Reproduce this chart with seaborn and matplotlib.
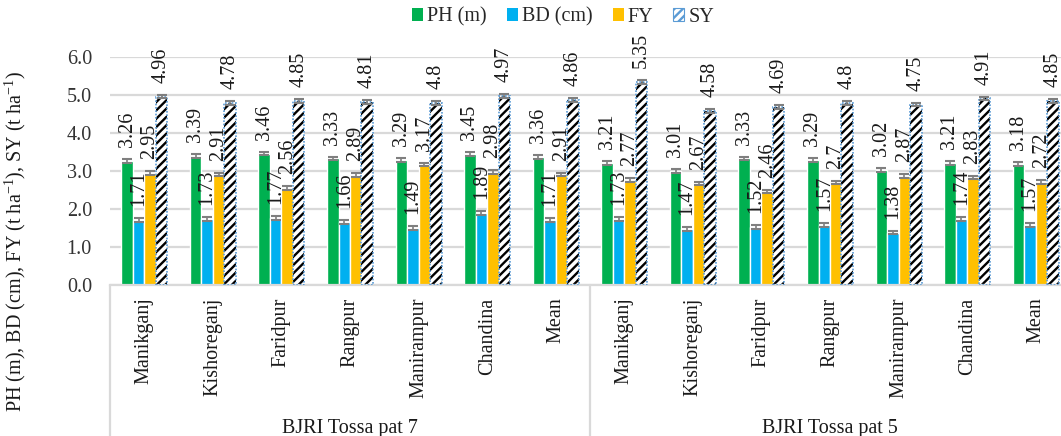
import pandas as pd
import seaborn as sns
import matplotlib.pyplot as plt
from matplotlib.patches import Patch, Rectangle

# Varieties, locations and measured traits
varieties = ["BJRI Tossa pat 7", "BJRI Tossa pat 5"]
locations = ["Manikganj", "Kishoreganj", "Faridpur", "Rangpur", "Manirampur", "Chandina", "Mean"]
series = ["PH (m)", "BD (cm)", "FY", "SY"]

ph = [3.26, 3.39, 3.46, 3.33, 3.29, 3.45, 3.36, 3.21, 3.01, 3.33, 3.29, 3.02, 3.21, 3.18]
bd = [1.71, 1.73, 1.77, 1.66, 1.49, 1.89, 1.71, 1.73, 1.47, 1.52, 1.57, 1.38, 1.74, 1.57]
fy = [2.95, 2.91, 2.56, 2.89, 3.17, 2.98, 2.91, 2.77, 2.67, 2.46, 2.70, 2.87, 2.83, 2.72]
sy = [4.96, 4.78, 4.85, 4.81, 4.80, 4.97, 4.86, 5.35, 4.58, 4.69, 4.80, 4.75, 4.91, 4.85]

# Standard errors shown as small caps on each bar
ph_err = [0.05, 0.05, 0.05, 0.05, 0.05, 0.05, 0.05, 0.05, 0.05, 0.05, 0.05, 0.05, 0.05, 0.05]
bd_err = [0.05, 0.05, 0.05, 0.05, 0.05, 0.05, 0.05, 0.05, 0.05, 0.05, 0.05, 0.05, 0.05, 0.05]
fy_err = [0.05, 0.05, 0.05, 0.05, 0.05, 0.05, 0.05, 0.05, 0.05, 0.05, 0.05, 0.05, 0.05, 0.05]
sy_err = [0.05, 0.05, 0.05, 0.05, 0.05, 0.05, 0.05, 0.05, 0.05, 0.05, 0.05, 0.05, 0.05, 0.05]

colors = ["#00B050", "#00B0F0", "#FFC000", "#FFFFFF"]

keys = [f"{v}|{loc}" for v in varieties for loc in locations]
values = [ph, bd, fy, sy]
errors = [ph_err, bd_err, fy_err, sy_err]

df = pd.DataFrame({
    "key": keys * len(series),
    "series": [s for s in series for _ in keys],
    "value": [x for vals in values for x in vals],
})

sns.set_theme(style="white")
plt.rcParams["font.family"] = ["Liberation Serif", "DejaVu Serif"]
plt.rcParams["mathtext.fontset"] = "custom"
plt.rcParams["mathtext.rm"] = "Liberation Serif"
plt.rcParams["hatch.linewidth"] = 1.7

FS = 14.5
TXT = "#1a1a1a"

W, H = 1061, 436
fig = plt.figure(figsize=(W / 100, H / 100), dpi=100)
ax = fig.add_axes([110 / W, 1 - 285 / H, 960 / W, 228 / H])

sns.barplot(data=df, x="key", y="value", hue="series", order=keys, hue_order=series,
            palette=colors, width=0.67, gap=0, errorbar=None, saturation=1,
            legend=False, ax=ax, zorder=2)

# Hatched SY bars with a dotted blue outline
for p in ax.containers[3]:
    p.set_facecolor("white")
    p.set_edgecolor("black")
    p.set_hatch("////")
    p.set_linewidth(0)
    ax.add_patch(Rectangle((p.get_x(), 0), p.get_width(), p.get_height(), fill=False,
                           edgecolor="#5B9BD5", linestyle=(0, (1, 1)), lw=1.2, zorder=3))

# Error caps and rotated value labels
for cont, errs, vals in zip(ax.containers, errors, values):
    xs = [p.get_x() + p.get_width() / 2 for p in cont]
    hs = [p.get_height() for p in cont]
    ax.errorbar(xs, hs, yerr=errs, fmt="none", ecolor="#7F7F7F", elinewidth=1.2,
                capsize=3.8, capthick=1.5, zorder=4)
    ax.bar_label(cont, labels=[f"{v:g}" for v in vals], rotation=90, padding=10,
                 fontsize=FS, color=TXT)

ax.set_ylim(0, 6)
ax.set_xlim(-0.5, 13.5)
ax.set_yticks([0, 1, 2, 3, 4, 5, 6])
ax.set_yticklabels([f"{t:.1f}" for t in range(7)], fontsize=FS, color="#333333")
ax.tick_params(axis="y", length=0, pad=13)
ax.yaxis.grid(True, color="#D9D9D9", lw=1.6)
ax.set_axisbelow(True)
for s in ["left", "right", "top"]:
    ax.spines[s].set_visible(False)
ax.spines["bottom"].set_color("#D9D9D9")
ax.spines["bottom"].set_linewidth(1.6)

ax.set_xticks(range(len(keys)))
ax.set_xticklabels([k.split("|")[1] for k in keys], rotation=90, fontsize=FS,
                   va="top", ha="center", color=TXT)
ax.tick_params(axis="x", length=0, pad=9)
ax.set_xlabel("")
ax.set_ylabel("")

# Two-level category box
tr = ax.get_xaxis_transform()
for xline in [-0.5, 6.5, 13.5]:
    ax.plot([xline, xline], [0, -1.0], transform=tr, color="#D9D9D9", lw=1.6, clip_on=False)
for i, v in enumerate(varieties):
    ax.text(3 + 7 * i, -0.63, v, transform=tr, ha="center", va="center", fontsize=FS,
            color=TXT)

fig.text(15 / W, 1 - 241 / H,
         r"PH (m), BD (cm), FY (t ha$^{\mathregular{-1}}$), SY (t ha$^{\mathregular{-1}}$)",
         rotation=90, ha="center", va="center", fontsize=FS, color=TXT)

handles = [Patch(facecolor=colors[0], edgecolor="none"),
           Patch(facecolor=colors[1], edgecolor="none"),
           Patch(facecolor=colors[2], edgecolor="none"),
           Patch(facecolor="white", edgecolor="#5B9BD5", hatch="////", lw=0.8)]
leg = fig.legend(handles, series, loc="center", bbox_to_anchor=(563 / W, 1 - 17 / H),
                 ncol=4, frameon=False, fontsize=FS, handlelength=0.55, handleheight=0.55,
                 handletextpad=0.2, columnspacing=1.0)

fig.savefig("out.png", dpi=100)
